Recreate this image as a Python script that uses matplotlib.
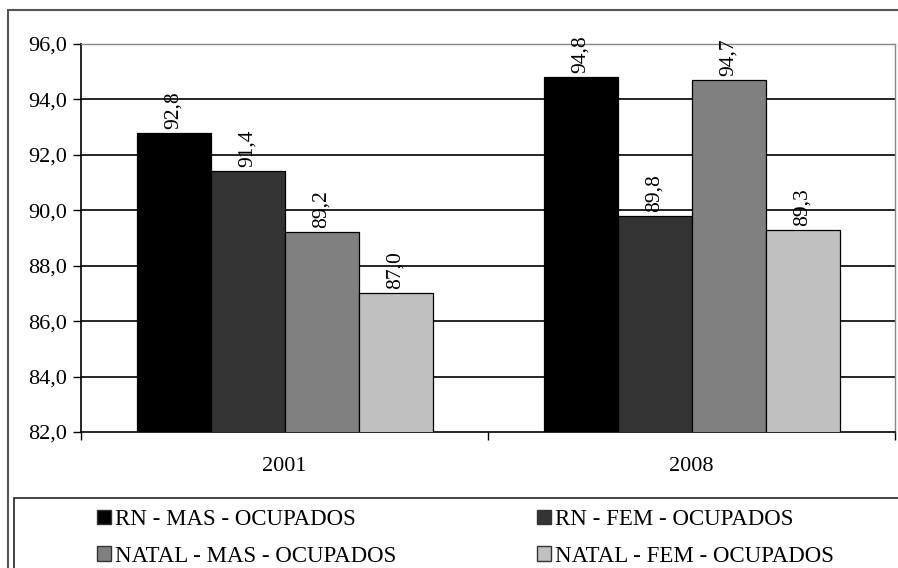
import matplotlib
matplotlib.use("Agg")
import matplotlib.pyplot as plt
from matplotlib.patches import Rectangle, Patch
import numpy as np

categories = ["2001", "2008"]
series_names = ["RN - MAS - OCUPADOS", "RN - FEM - OCUPADOS",
                "NATAL - MAS - OCUPADOS", "NATAL - FEM - OCUPADOS"]
rn_mas = [92.8, 94.8]
rn_fem = [91.4, 89.8]
natal_mas = [89.2, 94.7]
natal_fem = [87.0, 89.3]
yticks = [82, 84, 86, 88, 90, 92, 94, 96]

series = [rn_mas, rn_fem, natal_mas, natal_fem]
colors = ["#000000", "#333333", "#808080", "#c0c0c0"]

plt.rcParams['font.family'] = ['Liberation Serif', 'DejaVu Serif']

W, H = 898, 568
fig = plt.figure(figsize=(W / 100, H / 100), dpi=100)

# outer chart frame (cut off at right/bottom)
fig.patches.append(Rectangle((8 / W, -0.1), 1.2, (H - 10) / H + 0.1,
                             transform=fig.transFigure, fill=False,
                             edgecolor="#555555", linewidth=1.5, zorder=0))

ax = fig.add_axes([81 / W, (H - 432) / H, (895 - 81) / W, (432 - 44) / H])

x = np.arange(len(categories))
bw = 74 / 407
offsets = (np.arange(4) - 1.5) * bw
for s, vals, c, name in zip(range(4), series, colors, series_names):
    ax.bar(x + offsets[s], vals, width=bw, color=c, edgecolor="black",
           linewidth=0.9, label=name, zorder=3)
    for xi, v in zip(x + offsets[s], vals):
        ax.annotate(f"{v:.1f}".replace(".", ","), (xi, v), xytext=(0, 3),
                    textcoords="offset points", rotation=90, ha="center",
                    va="bottom", fontsize=15.5, zorder=4)

ax.set_ylim(82, 96)
ax.set_xlim(-0.5, 1.5)
ax.set_yticks(yticks)
ax.set_yticklabels([f"{t:.1f}".replace(".", ",") for t in yticks], fontsize=16)
for t in yticks[1:-1]:
    ax.axhline(t, color="black", linewidth=1.2, zorder=1)

ax.set_xticks([-0.5, 0.5, 1.5])
ax.set_xticklabels(["", "", ""])
ax.set_xticks(x, minor=True)
ax.set_xticklabels(categories, minor=True, fontsize=16)
ax.tick_params(axis="x", which="minor", length=0, pad=18)
ax.tick_params(axis="x", which="major", length=6, direction="out", width=1)
ax.tick_params(axis="y", length=6, direction="out", width=1, pad=4)

ax.spines["left"].set_color("black")
ax.spines["bottom"].set_color("black")
ax.spines["left"].set_linewidth(1.2)
ax.spines["bottom"].set_linewidth(1.2)
ax.spines["top"].set_color("#888888")
ax.spines["right"].set_color("#888888")
ax.spines["top"].set_linewidth(1.0)
ax.spines["right"].set_linewidth(1.0)

# legend frame (cut off at right/bottom)
fig.patches.append(Rectangle((14 / W, -0.1), 1.2, (H - 498) / H + 0.1,
                             transform=fig.transFigure, fill=False,
                             edgecolor="#222222", linewidth=1.2, zorder=1))

handles = [Patch(facecolor=c, edgecolor="#333333", linewidth=1) for c in colors]
common = dict(loc="upper left", frameon=False, fontsize=16.5, handlelength=0.6,
              handleheight=0.6, handletextpad=0.2, labelspacing=0.68,
              borderpad=0, borderaxespad=0)
fig.legend([handles[0], handles[2]], [series_names[0], series_names[2]],
           bbox_to_anchor=(97 / W, (H - 509) / H), **common)
fig.legend([handles[1], handles[3]], [series_names[1], series_names[3]],
           bbox_to_anchor=(537 / W, (H - 509) / H), **common)

fig.savefig("out.png", dpi=100)
